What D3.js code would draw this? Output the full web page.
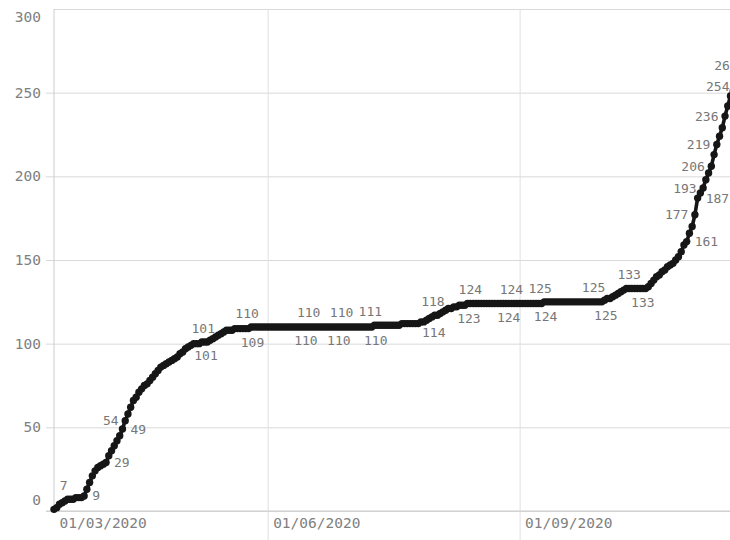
<!DOCTYPE html>
<html>
<head>
<meta charset="utf-8">
<script src="https://cdn.jsdelivr.net/npm/d3@7"></script>
<style>
  body { margin: 0; background: #fff; }
  svg { display: block; }
</style>
</head>
<body>
<svg width="730" height="540"></svg>
<script>
// cumulative daily totals, one per day starting at firstDay
const firstDay = "2020-03-15";
const totals = [
  1, 2, 4, 5, 6, 7, 7, 7, 8, 8,
  8, 9, 13, 17, 21, 24, 26, 27, 28, 29,
  33, 36, 39, 42, 45, 49, 54, 58, 62, 66,
  68, 71, 73, 75, 76, 78, 80, 82, 84, 86,
  87, 88, 89, 90, 91, 92, 94, 95, 97, 98,
  99, 100, 100, 100, 101, 101, 101, 102, 103, 104,
  105, 106, 107, 108, 108, 108, 109, 109, 109, 109,
  109, 109, 110, 110, 110, 110, 110, 110, 110, 110,
  110, 110, 110, 110, 110, 110, 110, 110, 110, 110,
  110, 110, 110, 110, 110, 110, 110, 110, 110, 110,
  110, 110, 110, 110, 110, 110, 110, 110, 110, 110,
  110, 110, 110, 110, 110, 110, 110, 111, 111, 111,
  111, 111, 111, 111, 111, 111, 111, 112, 112, 112,
  112, 112, 112, 112, 113, 113, 114, 115, 116, 117,
  117, 118, 119, 120, 121, 121, 122, 122, 123, 123,
  123, 124, 124, 124, 124, 124, 124, 124, 124, 124,
  124, 124, 124, 124, 124, 124, 124, 124, 124, 124,
  124, 124, 124, 124, 124, 124, 124, 124, 124, 125,
  125, 125, 125, 125, 125, 125, 125, 125, 125, 125,
  125, 125, 125, 125, 125, 125, 125, 125, 125, 125,
  125, 126, 127, 127, 128, 129, 130, 131, 132, 133,
  133, 133, 133, 133, 133, 133, 133, 134, 136, 138,
  140, 141, 143, 144, 146, 147, 148, 150, 152, 155,
  159, 161, 166, 170, 177, 187, 190, 193, 198, 202,
  206, 213, 219, 224, 229, 236, 242, 248, 251, 254,
  260, 263, 266
];

// days whose value is written next to the point
const upperLabelDays = [
  "2020-03-20", "2020-04-10", "2020-05-10", "2020-05-26", "2020-06-16",
  "2020-06-28", "2020-07-10", "2020-08-03", "2020-08-14", "2020-08-29",
  "2020-09-10", "2020-09-28", "2020-10-11", "2020-11-04", "2020-11-07",
  "2020-11-10", "2020-11-12", "2020-11-15", "2020-11-19", "2020-11-22"
];
const lowerLabelDays = [
  "2020-03-26", "2020-04-03", "2020-04-09", "2020-05-08", "2020-05-25",
  "2020-06-15", "2020-06-27", "2020-07-09", "2020-07-29", "2020-08-12",
  "2020-08-28", "2020-09-09", "2020-10-01", "2020-10-16", "2020-11-01",
  "2020-11-05"
];

const xTickDays = ["2020-03-01", "2020-06-01", "2020-09-01"];
const yTicks = [0, 50, 100, 150, 200, 250, 300];
const xDomainDays = ["2020-03-15", "2020-11-17"];

const parse = d3.timeParse("%Y-%m-%d");
const fmt = d3.timeFormat("%d/%m/%Y");
const start = parse(firstDay);
const data = totals.map((v, i) => ({ date: d3.timeDay.offset(start, i), value: v, i: i }));

const svg = d3.select("svg");
const margin = { top: 9, left: 54, bottom: 29 };
const width = 676.5;
const height = 540 - margin.top - margin.bottom;

const x = d3.scaleTime().domain(xDomainDays.map(parse)).range([0, width]);
const y = d3.scaleLinear().domain([0, 300]).range([height, 0]);

const g = svg.append("g")
  .attr("transform", `translate(${margin.left},${margin.top})`);

const mono = "'DejaVu Sans Mono', monospace";
const clampY = v => Math.max(8, Math.min(height - 11, v));

// y grid + labels
const yAxis = g.append("g")
  .call(d3.axisLeft(y).tickValues(yTicks).tickSizeInner(-(width + 20)).tickSizeOuter(0).tickPadding(13))
  .attr("font-family", mono)
  .attr("font-size", 14.5);
yAxis.select(".domain").remove();
yAxis.selectAll(".tick line")
  .attr("x1", d => (d === 300 ? 0 : -8))
  .attr("stroke", "#d9d9d9");
yAxis.selectAll(".tick text")
  .attr("fill", "#808080")
  .attr("y", d => clampY(y(d)) - y(d));

// x grid + labels
const xAxis = g.append("g")
  .attr("transform", `translate(0,${height})`)
  .call(d3.axisBottom(x).tickValues(xTickDays.map(parse)).tickFormat(fmt).tickSizeOuter(0))
  .attr("font-family", mono)
  .attr("font-size", 14.5);
xAxis.select(".domain").remove();
xAxis.selectAll(".tick line")
  .attr("y1", -height)
  .attr("y2", margin.bottom)
  .attr("stroke", "#e0e0e0")
  .attr("display", d => (x(d) < 0 ? "none" : null));
xAxis.selectAll(".tick text")
  .attr("fill", "#808080")
  .attr("text-anchor", "start")
  .attr("x", d => Math.max(x(d), 0) - x(d) + 5)
  .attr("y", 12)
  .attr("dy", "0.35em");

// axis lines
g.append("line").attr("x1", 0).attr("x2", 0).attr("y1", 0).attr("y2", height)
  .attr("stroke", "#cccccc");
g.append("line").attr("x1", -8).attr("x2", width + 20).attr("y1", height).attr("y2", height)
  .attr("stroke", "#cccccc");

// series
const ink = "#161616";
g.append("path")
  .datum(data)
  .attr("fill", "none")
  .attr("stroke", ink)
  .attr("stroke-width", 3.6)
  .attr("stroke-linejoin", "round")
  .attr("d", d3.line().x(d => x(d.date)).y(d => y(d.value)));

g.selectAll(".dot")
  .data(data)
  .enter()
  .append("circle")
  .attr("class", "dot")
  .attr("cx", d => x(d.date))
  .attr("cy", d => y(d.value))
  .attr("r", 3.7)
  .attr("fill", ink);

// value labels, set off from the line on either side
const byDay = new Map(data.map(d => [+d.date, d]));
const labels = upperLabelDays.map(s => ({ d: byDay.get(+parse(s)), side: -1 }))
  .concat(lowerLabelDays.map(s => ({ d: byDay.get(+parse(s)), side: 1 })))
  .filter(l => l.d);

labels.forEach(l => {
  const i = l.d.i;
  const a = data[Math.max(0, i - 1)], b = data[Math.min(data.length - 1, i + 1)];
  const dx = x(b.date) - x(a.date), dy = y(b.value) - y(a.value);
  const ang = Math.atan2(-dy, dx);
  const px = x(l.d.date), py = y(l.d.value);
  let tx, ty, anchor;
  if (ang > Math.PI / 4) {
    anchor = l.side < 0 ? "end" : "start";
    tx = px + (l.side < 0 ? -6.5 : 8);
    ty = py;
  } else {
    anchor = "middle";
    tx = px + l.side * 14 * Math.sin(ang);
    ty = py + l.side * 14 * Math.cos(ang);
  }
  l.tx = tx; l.ty = ty; l.anchor = anchor;
});

g.selectAll(".val")
  .data(labels)
  .enter()
  .append("text")
  .attr("class", "val")
  .attr("x", l => l.tx)
  .attr("y", l => l.ty)
  .attr("dy", "0.35em")
  .attr("text-anchor", l => l.anchor)
  .attr("font-family", mono)
  .attr("font-size", 13)
  .attr("fill", "#777777")
  .text(l => l.d.value);
</script>
</body>
</html>
